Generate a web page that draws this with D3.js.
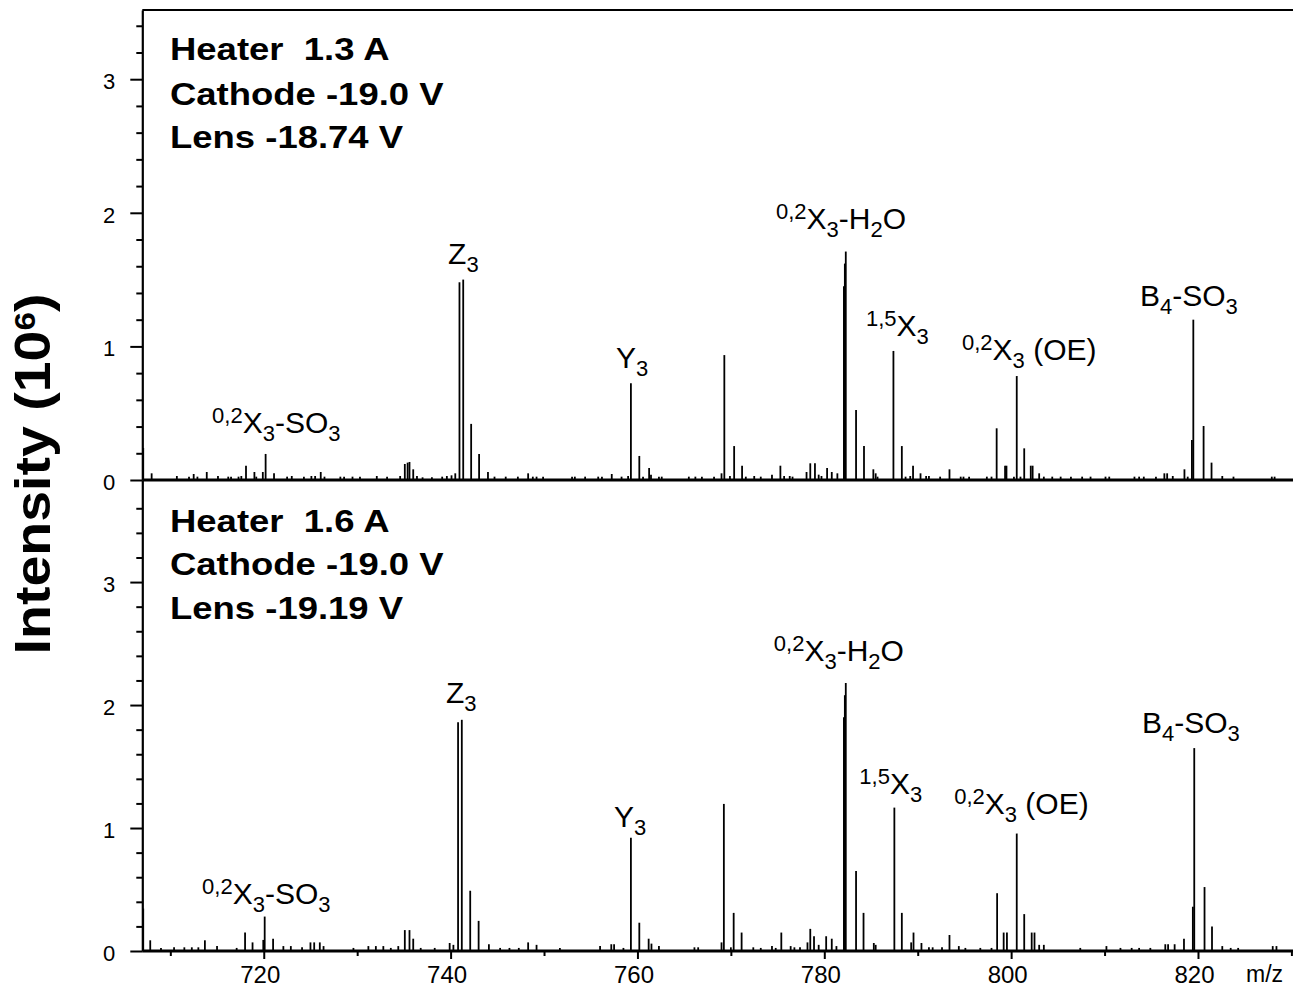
<!DOCTYPE html>
<html>
<head>
<meta charset="utf-8">
<script src="https://cdn.jsdelivr.net/npm/d3@7"></script>
<style>
  body { margin: 0; background: #fff; }
  text { font-family: "Liberation Sans", Arial, sans-serif; fill: #000; }
</style>
</head>
<body>
<svg id="chart"></svg>
<script>
// spectre m/z : deux réglages du chauffage (haut 1.3 A, bas 1.6 A)
var W = 1293, H = 989;

// peaks [m/z, intensity (10^6)]
const peaksTop = [
  [707.1,0.24],[708.0,0.05],[710.7,0.03],[712.0,0.025],[712.5,0.045],[712.9,0.025],[713.9,0.06],[715.1,0.03],
  [716.2,0.025],[716.5,0.025],[717.3,0.025],[717.6,0.03],[718.1,0.107],[719.0,0.06],[719.2,0.025],[719.9,0.06],
  [720.2,0.195],[721.1,0.05],[722.5,0.025],[723.0,0.03],[724.3,0.025],[725.1,0.03],[725.5,0.03],[726.1,0.06],
  [726.5,0.025],[728.2,0.025],[728.6,0.025],[729.5,0.025],[730.3,0.025],[732.1,0.03],[733.2,0.025],[734.6,0.03],
  [735.1,0.12],[735.4,0.13],[735.6,0.135],[736.0,0.08],[736.4,0.03],[737.0,0.02],[738.0,0.02],[739.1,0.025],
  [739.6,0.03],[740.1,0.035],[740.5,0.05],[740.95,1.48],[741.35,1.50],[742.2,0.42],[743.05,0.195],[744.0,0.06],
  [744.7,0.025],[745.9,0.025],[747.2,0.025],[748.3,0.05],[748.8,0.025],[749.2,0.025],[749.9,0.025],[753.0,0.025],
  [753.3,0.025],[754.4,0.025],[755.8,0.025],[756.2,0.025],[757.25,0.045],[758.3,0.025],[759.0,0.03],[759.3,0.725],
  [760.2,0.18],[760.6,0.025],[761.25,0.09],[761.45,0.04],[762.3,0.025],[762.6,0.025],[765.5,0.025],[766.2,0.025],
  [766.9,0.025],[768.2,0.025],[769.0,0.05],[769.3,0.935],[769.9,0.03],[770.35,0.254],[771.2,0.107],[771.6,0.025],
  [772.5,0.03],[773.2,0.025],[774.4,0.04],[775.3,0.107],[775.7,0.03],[776.3,0.03],[776.6,0.025],[778.1,0.06],
  [778.5,0.125],[779.0,0.125],[779.4,0.04],[779.7,0.03],[780.3,0.09],[780.8,0.06],[781.4,0.05],[782.1,1.45],
  [782.2,1.62],[782.3,1.71],[783.4,0.524],[784.25,0.254],[785.25,0.08],[785.5,0.05],[785.7,0.025],[787.4,0.966],
  [788.3,0.254],[788.7,0.025],[789.2,0.03],[789.5,0.107],[790.3,0.05],[790.9,0.03],[791.2,0.03],[792.4,0.025],
  [793.4,0.08],[794.6,0.025],[794.9,0.025],[795.5,0.025],[797.4,0.025],[797.9,0.025],[798.45,0.387],[799.35,0.107],
  [799.5,0.107],[800.3,0.025],[800.6,0.778],[801.0,0.025],[801.4,0.237],[802.1,0.107],[802.3,0.107],[803.0,0.05],
  [803.5,0.025],[804.4,0.025],[805.3,0.025],[806.4,0.025],[807.6,0.025],[808.5,0.025],[810.1,0.025],[810.5,0.025],
  [813.2,0.025],[813.7,0.025],[814.2,0.025],[815.5,0.025],[816.4,0.05],[816.7,0.05],[817.3,0.03],[818.55,0.08],
  [818.9,0.025],[819.35,0.3],[819.5,1.2],[820.6,0.404],[821.45,0.13],[822.6,0.03],[823.8,0.025],[827.9,0.025],
  [828.2,0.025]
];

const peaksBottom = [
  [707.1,0.345],[707.85,0.087],[709.0,0.025],[710.4,0.03],[711.5,0.03],[712.3,0.03],[713.0,0.03],[713.7,0.087],
  [715.0,0.04],[717.1,0.025],[718.0,0.15],[718.8,0.07],[719.95,0.09],[720.1,0.28],[721.0,0.10],[722.1,0.04],
  [722.9,0.04],[724.1,0.03],[725.0,0.07],[725.4,0.07],[726.0,0.07],[726.4,0.04],[729.6,0.025],[731.2,0.04],
  [732.0,0.04],[732.8,0.04],[733.6,0.025],[734.4,0.04],[735.1,0.17],[735.6,0.17],[736.0,0.10],[736.8,0.025],
  [738.3,0.025],[739.9,0.065],[740.3,0.05],[740.8,1.86],[741.2,1.88],[742.1,0.49],[743.0,0.245],[744.1,0.055],
  [745.3,0.025],[746.3,0.025],[747.3,0.025],[748.3,0.07],[749.2,0.05],[751.7,0.025],[756.0,0.04],[757.2,0.055],
  [757.5,0.055],[758.5,0.025],[759.3,0.92],[760.2,0.23],[761.2,0.10],[761.5,0.06],[762.3,0.04],[766.1,0.03],
  [766.5,0.03],[769.0,0.07],[769.25,1.196],[770.0,0.03],[770.3,0.31],[771.15,0.15],[772.4,0.03],[773.2,0.025],
  [774.4,0.04],[774.8,0.025],[775.4,0.15],[776.4,0.04],[776.8,0.03],[777.4,0.03],[778.2,0.07],[778.5,0.18],
  [778.9,0.12],[779.4,0.05],[780.2,0.12],[780.8,0.10],[781.3,0.04],[782.1,1.9],[782.2,2.08],[782.3,2.18],
  [783.4,0.65],[784.2,0.31],[785.3,0.065],[785.5,0.05],[787.5,1.166],[788.3,0.31],[789.3,0.07],[789.55,0.15],
  [790.4,0.065],[791.2,0.03],[791.6,0.03],[792.6,0.03],[793.4,0.13],[794.4,0.04],[795.1,0.025],[796.7,0.025],
  [797.9,0.025],[798.5,0.47],[799.2,0.15],[799.55,0.15],[800.6,0.955],[801.4,0.30],[802.2,0.15],[802.5,0.15],
  [803.0,0.05],[803.5,0.05],[807.4,0.025],[810.2,0.04],[811.7,0.025],[812.9,0.025],[813.7,0.025],[814.9,0.025],
  [816.5,0.055],[816.8,0.055],[817.5,0.055],[818.5,0.10],[819.45,0.36],[819.6,1.65],[820.7,0.52],[821.5,0.20],
  [822.6,0.04],[823.5,0.025],[824.3,0.025],[828.0,0.04],[828.4,0.04]
];

// fragment labels: pieces [text, kind]
const labelNames = [
  [["0,2","sup"],["X","n"],["3","sub"],["-SO","n"],["3","sub"]],
  [["Z","n"],["3","sub"]],
  [["Y","n"],["3","sub"]],
  [["0,2","sup"],["X","n"],["3","sub"],["-H","n"],["2","sub"],["O","n"]],
  [["1,5","sup"],["X","n"],["3","sub"]],
  [["0,2","sup"],["X","n"],["3","sub"],[" (OE)","n"]],
  [["B","n"],["4","sub"],["-SO","n"],["3","sub"]]
];
// label anchors [m/z, intensity] (start of text, baseline)
const labelAnchorTop    = [[714.47,0.35],[739.73,1.62],[757.7,0.84],[774.83,1.88],[784.46,1.08],[794.74,0.90],[813.79,1.30]];
const labelAnchorBottom = [[713.4,0.38],[739.5,2.02],[757.5,1.01],[774.6,2.36],[783.75,1.28],[793.9,1.11],[814.0,1.77]];

const infoTop    = ["Heater  1.3 A", "Cathode -19.0 V", "Lens -18.74 V"];
const infoBottom = ["Heater  1.6 A", "Cathode -19.0 V", "Lens -19.19 V"];

const xMajor = [720, 740, 760, 780, 800, 820];
const xMinor = [710, 730, 750, 770, 790, 810, 830];
const yMajor = [0, 1, 2, 3];

const svg = d3.select("#chart").attr("width", W).attr("height", H);

var x = d3.scaleLinear().domain([707, 830.17]).range([142.3, 1293]);
var yTop = d3.scaleLinear().domain([0, 3.518]).range([480, 10]);
var yBot = d3.scaleLinear().domain([0, 3.83]).range([951, 480]);

function panel(y, peaks, anchors, info, minorMax, infoY) {
  const g = svg.append("g");

  // sticks
  g.selectAll("line.pk").data(peaks).join("line")
    .attr("class", "pk")
    .attr("x1", d => x(d[0])).attr("x2", d => x(d[0]))
    .attr("y1", y(0)).attr("y2", d => y(d[1]))
    .attr("stroke", "#000").attr("stroke-width", 1.8);

  // baseline
  g.append("line")
    .attr("x1", x.range()[0]).attr("x2", x.range()[1])
    .attr("y1", y(0)).attr("y2", y(0))
    .attr("stroke", "#000").attr("stroke-width", 3);

  // y axis
  const minor = d3.range(0.2, minorMax + 0.01, 0.2).filter(v => Math.abs(v - Math.round(v)) > 0.05);
  g.append("g").attr("transform", "translate(" + x.range()[0] + ",0)")
    .call(d3.axisLeft(y).tickValues(minor).tickSize(6).tickSizeOuter(0).tickFormat(""))
    .call(a => a.select(".domain").remove())
    .selectAll("line").attr("stroke-width", 2);
  const ya = g.append("g").attr("transform", "translate(" + x.range()[0] + ",0)")
    .call(d3.axisLeft(y).tickValues(yMajor).tickSize(12).tickPadding(15).tickSizeOuter(0).tickFormat(d3.format("d")));
  ya.select(".domain").attr("stroke-width", 2.2);
  ya.selectAll("line").attr("stroke-width", 2);
  ya.selectAll("text").attr("font-size", 22).attr("font-family", "Liberation Sans, Arial, sans-serif").attr("dy", "0.42em");

  // labels
  anchors.forEach((a, i) => {
    const t = g.append("text")
      .attr("x", x(a[0])).attr("y", y(a[1]))
      .attr("font-size", 30);
    let shift = 0;
    labelNames[i].forEach(p => {
      let target = p[1] === "sup" ? -10 : p[1] === "sub" ? 8 : 0;
      t.append("tspan").attr("dy", target - shift)
        .attr("font-size", p[1] === "n" ? 30 : 22)
        .text(p[0]);
      shift = target;
    });
  });

  // settings text
  info.forEach((s, i) => {
    g.append("text")
      .attr("transform", "translate(170," + infoY[i] + ") scale(1.14,1)")
      .attr("font-size", 32).attr("font-weight", "bold")
      .style("white-space", "pre")
      .text(s);
  });
  return g;
}

panel(yTop, peaksTop, labelAnchorTop, infoTop, 3.4, [60, 105, 148]);
panel(yBot, peaksBottom, labelAnchorBottom, infoBottom, 3.6, [532, 575, 619]);

// top frame
svg.append("line").attr("x1", x.range()[0]).attr("x2", W)
  .attr("y1", 10).attr("y2", 10).attr("stroke", "#000").attr("stroke-width", 2);

// x axis
svg.append("g").attr("transform", "translate(0," + yBot(0) + ")")
  .call(d3.axisBottom(x).tickValues(xMinor).tickSize(5).tickSizeOuter(0).tickFormat(""))
  .call(a => a.select(".domain").remove())
  .selectAll("line").attr("stroke-width", 2);
const xa = svg.append("g").attr("transform", "translate(0," + yBot(0) + ")")
  .call(d3.axisBottom(x).tickValues(xMajor).tickSize(8).tickPadding(7).tickSizeOuter(0).tickFormat(d3.format("d")));
xa.select(".domain").remove();
xa.selectAll("line").attr("stroke-width", 2);
xa.selectAll("text").attr("font-size", 24).attr("font-family", "Liberation Sans, Arial, sans-serif").attr("x", -4);

svg.append("text").attr("x", 1246).attr("y", 982).attr("font-size", 23).text("m/z");

// y title
const title = svg.append("text")
  .attr("transform", "translate(50,474) rotate(-90) scale(1.11,1)")
  .attr("text-anchor", "middle").attr("font-size", 50).attr("font-weight", "bold");
title.append("tspan").text("Intensity (10");
title.append("tspan").attr("font-size", 30).attr("dy", -15).text("6");
title.append("tspan").attr("dy", 15).text(")");
</script>
</body>
</html>
